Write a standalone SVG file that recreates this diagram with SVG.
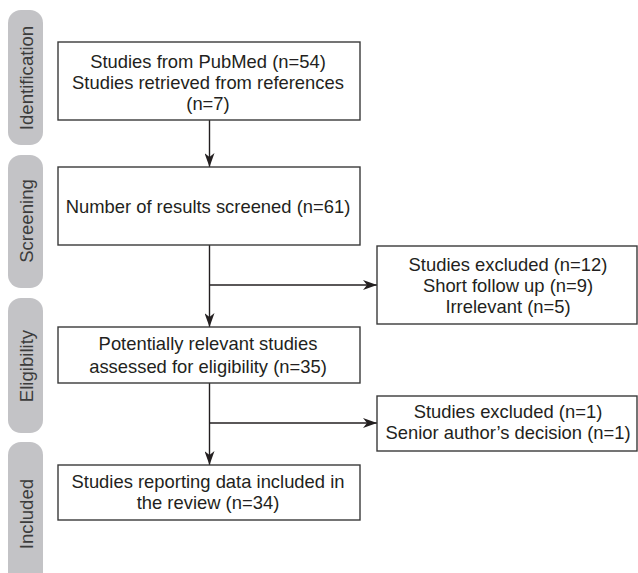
<svg xmlns="http://www.w3.org/2000/svg" width="638" height="573" viewBox="0 0 638 573">
<defs>
<style>
.lab{fill:#c3c3c6;}
.labt{font-family:"Liberation Sans",Arial,sans-serif;font-size:18.6px;fill:#3c3c3c;text-anchor:middle;}
.box{fill:#fff;stroke:#3a3a3a;stroke-width:1.4;}
.t{font-family:"Liberation Sans",Arial,sans-serif;font-size:18.4px;fill:#231f20;text-anchor:middle;}
.ln{fill:none;stroke:#231f20;stroke-width:1.4;}
</style>
<marker id="ah" viewBox="0 0 14 10" refX="14" refY="5" markerWidth="14" markerHeight="10" markerUnits="userSpaceOnUse" orient="auto">
<path d="M0,0 L14,5 L0,10 L4,5 z" fill="#231f20"/>
</marker>
</defs>
<rect width="638" height="573" fill="#fff"/>
<g id="stage-identification">
<rect class="lab" x="8" y="10" width="35" height="135" rx="13"/>
<text class="labt" transform="translate(32.5,78) rotate(-90)">Identification</text>
</g>
<g id="stage-screening">
<rect class="lab" x="8" y="155" width="35" height="133" rx="13"/>
<text class="labt" transform="translate(32.5,221) rotate(-90)">Screening</text>
</g>
<g id="stage-eligibility">
<rect class="lab" x="8" y="298" width="35" height="135" rx="13"/>
<text class="labt" transform="translate(32.5,366) rotate(-90)">Eligibility</text>
</g>
<g id="stage-included">
<rect class="lab" x="8" y="442" width="35" height="150" rx="13"/>
<text class="labt" transform="translate(32.5,514) rotate(-90)">Included</text>
</g>
<g id="connectors">
<line class="ln" x1="209.5" y1="120" x2="209.5" y2="167" marker-end="url(#ah)"/>
<line class="ln" x1="209.5" y1="245" x2="209.5" y2="327" marker-end="url(#ah)"/>
<line class="ln" x1="209.5" y1="285" x2="377" y2="285" marker-end="url(#ah)"/>
<line class="ln" x1="209.5" y1="383" x2="209.5" y2="465" marker-end="url(#ah)"/>
<line class="ln" x1="209.5" y1="423" x2="377" y2="423" marker-end="url(#ah)"/>
</g>
<g id="node-sources">
<rect class="box" x="58" y="42" width="302" height="78"/>
<text class="t" x="208" y="68">Studies from PubMed (n=54)</text>
<text class="t" x="208" y="89">Studies retrieved from references</text>
<text class="t" x="208" y="110">(n=7)</text>
</g>
<g id="node-screened">
<rect class="box" x="58" y="167" width="302" height="78"/>
<text class="t" x="208" y="213">Number of results screened (n=61)</text>
</g>
<g id="node-excluded1">
<rect class="box" x="377" y="246" width="260" height="78"/>
<text class="t" x="508" y="271">Studies excluded (n=12)</text>
<text class="t" x="508" y="292">Short follow up (n=9)</text>
<text class="t" x="508" y="313">Irrelevant (n=5)</text>
</g>
<g id="node-eligible">
<rect class="box" x="58" y="327" width="302" height="56"/>
<text class="t" x="208" y="350">Potentially relevant studies</text>
<text class="t" x="208" y="373">assessed for eligibility (n=35)</text>
</g>
<g id="node-excluded2">
<rect class="box" x="377" y="396" width="260" height="55"/>
<text class="t" x="508" y="418">Studies excluded (n=1)</text>
<text class="t" x="508" y="439">Senior author’s decision (n=1)</text>
</g>
<g id="node-included">
<rect class="box" x="58" y="465" width="302" height="55"/>
<text class="t" x="208" y="488">Studies reporting data included in</text>
<text class="t" x="208" y="509">the review (n=34)</text>
</g>
</svg>
